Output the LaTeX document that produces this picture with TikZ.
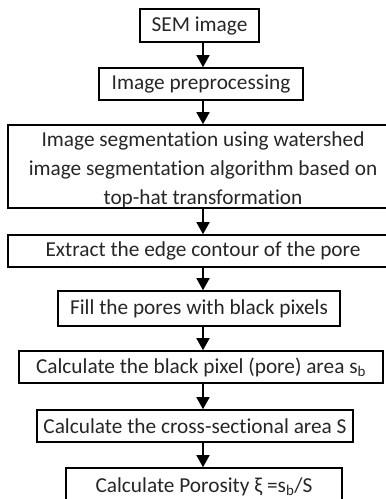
\documentclass[tikz,border=0pt]{standalone}
\usepackage{fontspec}
\setmainfont[Ligatures=NoCommon]{Carlito}
\usetikzlibrary{arrows.meta}
\begin{document}
\begin{tikzpicture}[x=1pt,y=-1pt,
  txt/.style={font=\fontsize{21.3}{29}\selectfont, align=center, text=black!85},
  stepbox/.style={draw, line width=1.6pt, rectangle, inner sep=0pt, txt},
  arr/.style={line width=1.5pt, -{Triangle[length=12pt,width=13pt]}}]
\useasboundingbox (0,0) rectangle (386,499);
\clip (0,0) rectangle (386,499);
\coordinate (ax) at (203,0);
\node[stepbox, minimum width=119pt, minimum height=33pt] (n1) at (199.5,25.5) {SEM image};
\node[stepbox, minimum width=204pt, minimum height=32pt] (n2) at (201,84) {Image preprocessing};
\node[stepbox, minimum width=390pt, minimum height=83pt] (n3) at (203,166.5) {};
\node[txt] (t3) at ([yshift=-3pt]n3.center) {Image segmentation using watershed\\image segmentation algorithm based on\\top-hat transformation};
\node[stepbox, minimum width=390pt, minimum height=32pt] (n4) at (203,251) {Extract the edge contour of the pore};
\node[stepbox, minimum width=282pt, minimum height=35pt] (n5) at (199,308.5) {Fill the pores with black pixels};
\node[stepbox, minimum width=364pt, minimum height=32pt] (n6) at (201,367) {Calculate the black pixel (pore) area s\textsubscript{b}};
\node[stepbox, minimum width=316pt, minimum height=32pt] (n7) at (195,426) {Calculate the cross-sectional area S};
\node[stepbox, minimum width=276pt, minimum height=44pt] (n8) at (204,490) {};
\node[txt, anchor=base] (t8) at (204,492) {Calculate Porosity ξ =s\textsubscript{b}/S};
\draw[arr] (n1.south -| ax) -- (n2.north -| ax);
\draw[arr] (n2.south -| ax) -- (n3.north -| ax);
\draw[arr] (n3.south -| ax) -- (n4.north -| ax);
\draw[arr] (n4.south -| ax) -- (n5.north -| ax);
\draw[arr] (n5.south -| ax) -- (n6.north -| ax);
\draw[arr] (n6.south -| ax) -- (n7.north -| ax);
\draw[arr] (n7.south -| ax) -- (n8.north -| ax);
\end{tikzpicture}
\end{document}
